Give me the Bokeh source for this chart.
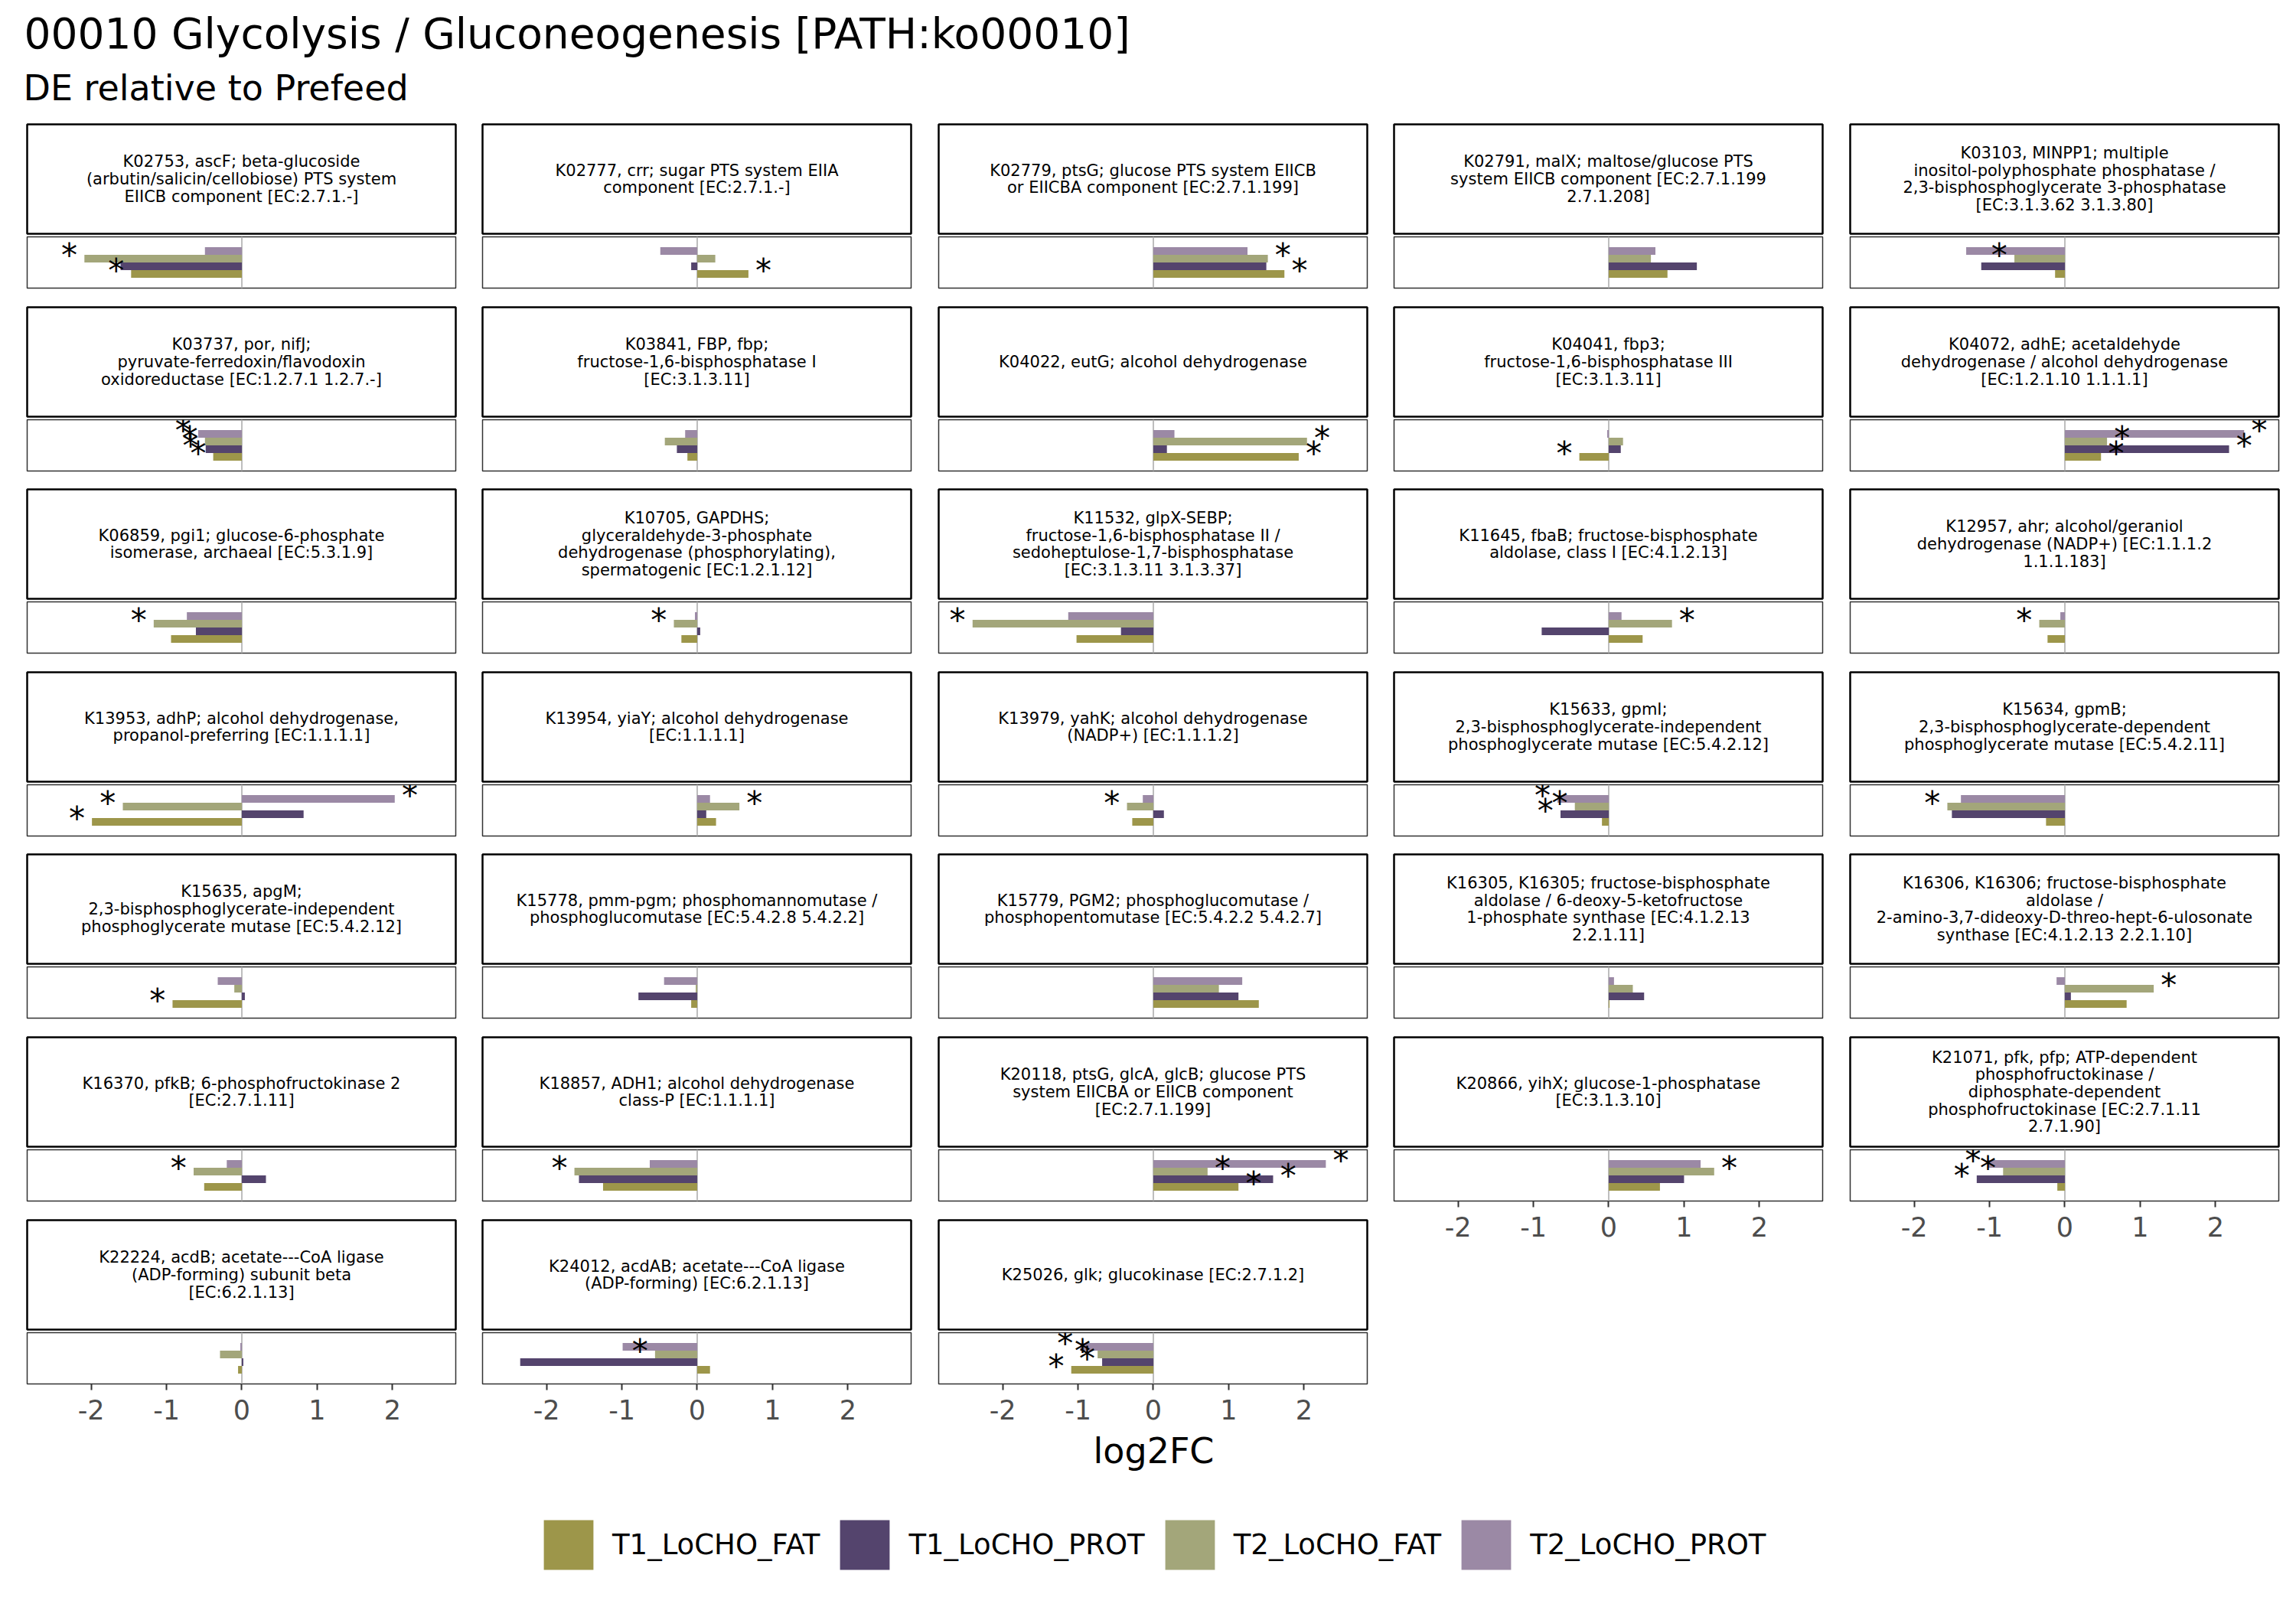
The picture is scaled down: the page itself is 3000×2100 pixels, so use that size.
import numpy as np
from bokeh.plotting import figure
from bokeh.models import Range1d, FactorRange, Spacer, ColumnDataSource, FixedTicker, Span
from bokeh.layouts import column, row
from bokeh.embed import file_html
from bokeh.resources import INLINE
from bokeh.core.properties import value

title = "00010 Glycolysis / Gluconeogenesis [PATH:ko00010]"
subtitle = "DE relative to Prefeed"
x_label = "log2FC"
series = ["T1_LoCHO_FAT", "T1_LoCHO_PROT", "T2_LoCHO_FAT", "T2_LoCHO_PROT"]
colors = ["#9D964A", "#54446D", "#A3A67A", "#9B89A5"]
ticks = [-2, -1, 0, 1, 2]

genes = [
    "K02753, ascF; beta-glucoside\n(arbutin/salicin/cellobiose) PTS system\nEIICB component [EC:2.7.1.-]",
    "K02777, crr; sugar PTS system EIIA\ncomponent [EC:2.7.1.-]",
    "K02779, ptsG; glucose PTS system EIICB\nor EIICBA component [EC:2.7.1.199]",
    "K02791, malX; maltose/glucose PTS\nsystem EIICB component [EC:2.7.1.199\n2.7.1.208]",
    "K03103, MINPP1; multiple\ninositol-polyphosphate phosphatase /\n2,3-bisphosphoglycerate 3-phosphatase\n[EC:3.1.3.62 3.1.3.80]",
    "K03737, por, nifJ;\npyruvate-ferredoxin/flavodoxin\noxidoreductase [EC:1.2.7.1 1.2.7.-]",
    "K03841, FBP, fbp;\nfructose-1,6-bisphosphatase I\n[EC:3.1.3.11]",
    "K04022, eutG; alcohol dehydrogenase",
    "K04041, fbp3;\nfructose-1,6-bisphosphatase III\n[EC:3.1.3.11]",
    "K04072, adhE; acetaldehyde\ndehydrogenase / alcohol dehydrogenase\n[EC:1.2.1.10 1.1.1.1]",
    "K06859, pgi1; glucose-6-phosphate\nisomerase, archaeal [EC:5.3.1.9]",
    "K10705, GAPDHS;\nglyceraldehyde-3-phosphate\ndehydrogenase (phosphorylating),\nspermatogenic [EC:1.2.1.12]",
    "K11532, glpX-SEBP;\nfructose-1,6-bisphosphatase II /\nsedoheptulose-1,7-bisphosphatase\n[EC:3.1.3.11 3.1.3.37]",
    "K11645, fbaB; fructose-bisphosphate\naldolase, class I [EC:4.1.2.13]",
    "K12957, ahr; alcohol/geraniol\ndehydrogenase (NADP+) [EC:1.1.1.2\n1.1.1.183]",
    "K13953, adhP; alcohol dehydrogenase,\npropanol-preferring [EC:1.1.1.1]",
    "K13954, yiaY; alcohol dehydrogenase\n[EC:1.1.1.1]",
    "K13979, yahK; alcohol dehydrogenase\n(NADP+) [EC:1.1.1.2]",
    "K15633, gpmI;\n2,3-bisphosphoglycerate-independent\nphosphoglycerate mutase [EC:5.4.2.12]",
    "K15634, gpmB;\n2,3-bisphosphoglycerate-dependent\nphosphoglycerate mutase [EC:5.4.2.11]",
    "K15635, apgM;\n2,3-bisphosphoglycerate-independent\nphosphoglycerate mutase [EC:5.4.2.12]",
    "K15778, pmm-pgm; phosphomannomutase /\nphosphoglucomutase [EC:5.4.2.8 5.4.2.2]",
    "K15779, PGM2; phosphoglucomutase /\nphosphopentomutase [EC:5.4.2.2 5.4.2.7]",
    "K16305, K16305; fructose-bisphosphate\naldolase / 6-deoxy-5-ketofructose\n1-phosphate synthase [EC:4.1.2.13\n2.2.1.11]",
    "K16306, K16306; fructose-bisphosphate\naldolase /\n2-amino-3,7-dideoxy-D-threo-hept-6-ulosonate\nsynthase [EC:4.1.2.13 2.2.1.10]",
    "K16370, pfkB; 6-phosphofructokinase 2\n[EC:2.7.1.11]",
    "K18857, ADH1; alcohol dehydrogenase\nclass-P [EC:1.1.1.1]",
    "K20118, ptsG, glcA, glcB; glucose PTS\nsystem EIICBA or EIICB component\n[EC:2.7.1.199]",
    "K20866, yihX; glucose-1-phosphatase\n[EC:3.1.3.10]",
    "K21071, pfk, pfp; ATP-dependent\nphosphofructokinase /\ndiphosphate-dependent\nphosphofructokinase [EC:2.7.1.11\n2.7.1.90]",
    "K22224, acdB; acetate---CoA ligase\n(ADP-forming) subunit beta\n[EC:6.2.1.13]",
    "K24012, acdAB; acetate---CoA ligase\n(ADP-forming) [EC:6.2.1.13]",
    "K25026, glk; glucokinase [EC:2.7.1.2]",
]

t1_fat = [-1.47, 0.68, 1.74, 0.78, -0.13, -0.38, -0.13, 1.93, -0.39, 0.48,
          -0.94, -0.21, -1.02, 0.45, -0.23, -1.99, 0.25, -0.28, -0.09, -0.25,
          -0.92, -0.08, 1.40, 0.01, 0.82, -0.50, -1.25, 1.13, 0.68, -0.10,
          -0.05, 0.17, -1.09]
t1_prot = [-1.61, -0.08, 1.50, 1.17, -1.11, -0.48, -0.27, 0.18, 0.16, 2.18,
           -0.61, 0.04, -0.43, -0.89, 0.00, 0.82, 0.12, 0.14, -0.64, -1.50,
           0.04, -0.78, 1.13, 0.47, 0.08, 0.32, -1.57, 1.59, 1.00, -1.17,
           0.02, -2.35, -0.68]
t2_fat = [-2.09, 0.24, 1.52, 0.56, -0.67, -0.49, -0.43, 2.04, 0.19, 0.56,
          -1.17, -0.31, -2.40, 0.84, -0.34, -1.58, 0.56, -0.35, -0.45, -1.56,
          -0.10, -0.02, 0.87, 0.32, 1.18, -0.64, -1.63, 0.72, 1.40, -0.82,
          -0.29, -0.56, -0.74]
t2_prot = [-0.49, -0.49, 1.25, 0.62, -1.31, -0.58, -0.16, 0.28, -0.02, 2.38,
           -0.73, -0.03, -1.13, 0.17, -0.06, 2.03, 0.17, -0.14, -0.68, -1.38,
           -0.32, -0.44, 1.18, 0.07, -0.11, -0.20, -0.63, 2.29, 1.22, -1.02,
           -0.02, -0.99, -0.97]
sig_t1_fat = [1, 1, 1, 0, 0, 1, 0, 1, 1, 1, 0, 0, 0, 0, 0, 1, 0, 0, 0, 0,
              1, 0, 0, 0, 0, 0, 0, 1, 0, 0, 0, 0, 1]
sig_t1_prot = [0, 0, 0, 0, 0, 1, 0, 0, 0, 1, 0, 0, 0, 0, 0, 0, 0, 0, 1, 0,
               0, 0, 0, 0, 0, 0, 0, 1, 0, 1, 0, 0, 1]
sig_t2_fat = [1, 0, 1, 0, 1, 1, 0, 1, 0, 1, 1, 1, 1, 1, 1, 1, 1, 1, 1, 1,
              0, 0, 0, 0, 1, 1, 1, 1, 1, 1, 0, 1, 1]
sig_t2_prot = [0, 0, 0, 0, 0, 1, 0, 0, 0, 1, 0, 0, 0, 0, 0, 1, 0, 0, 1, 0,
               0, 0, 0, 0, 0, 0, 0, 1, 0, 1, 0, 0, 1]

FONT = "DejaVu Sans"
FW = 560          # panel frame width
STRIP_H = 143     # strip frame height
PANEL_H = 67      # panel frame height
B = 2             # border room
AX_B = 60         # room for tick labels
NCOL = 5


def make_strip(txt):
    p = figure(frame_width=FW, frame_height=STRIP_H, x_range=Range1d(0, 1), y_range=Range1d(0, 1),
               x_axis_type=None, y_axis_type=None, toolbar_location=None, output_backend="svg",
               min_border_left=B, min_border_right=B, min_border_top=B, min_border_bottom=B)
    p.outline_line_color = "black"
    p.outline_line_width = 2.5
    p.background_fill_color = "white"
    p.border_fill_color = "white"
    p.text(x=[0.5], y=[0.5], text=[txt], text_align="center", text_baseline="middle",
           text_font=value(FONT), text_font_size="21px", text_color="black", text_line_height=0.94)
    return p


def make_panel(i, with_axis):
    vals = [t1_fat[i], t1_prot[i], t2_fat[i], t2_prot[i]]
    sigs = [sig_t1_fat[i], sig_t1_prot[i], sig_t2_fat[i], sig_t2_prot[i]]
    p = figure(frame_width=FW, frame_height=PANEL_H, x_range=Range1d(-2.85, 2.84),
               y_range=FactorRange(factors=series, range_padding=0.675),
               x_axis_type="linear" if with_axis else None, y_axis_type=None,
               toolbar_location=None, output_backend="svg",
               min_border_left=B, min_border_right=B, min_border_top=B,
               min_border_bottom=AX_B if with_axis else B)
    p.outline_line_color = "#333333"
    p.outline_line_width = 1.5
    p.background_fill_color = "white"
    p.border_fill_color = "white"
    p.grid.visible = False
    p.add_layout(Span(location=0, dimension="height", line_color="#BEBEBE", line_width=2,
                      level="underlay"))
    src = ColumnDataSource(dict(series=series, v=vals, color=colors))
    p.hbar(y="series", left=0, right="v", height=1.0, fill_color="color", line_color=None, source=src)
    st_series = [s for s, g in zip(series, sigs) if g]
    st_x = [v + 0.2 * np.sign(v) for v, g in zip(vals, sigs) if g]
    if st_series:
        ssrc = ColumnDataSource(dict(series=st_series, x=st_x, t=["*"] * len(st_series)))
        p.text(x="x", y="series", text="t", source=ssrc, text_align="center", text_baseline="middle",
               y_offset=-5, text_font=value(FONT), text_font_size="42px", text_color="black")
    if with_axis:
        ax = p.xaxis[0]
        ax.ticker = FixedTicker(ticks=ticks)
        ax.major_label_overrides = {t: str(t) for t in ticks}
        ax.axis_line_color = None
        ax.major_tick_line_color = "#333333"
        ax.major_tick_line_width = 2
        ax.major_tick_out = 8
        ax.major_tick_in = 0
        ax.minor_tick_line_color = None
        ax.major_label_text_font = FONT
        ax.major_label_text_font_size = "35px"
        ax.major_label_text_color = "#4D4D4D"
        ax.major_label_standoff = 12
    return p


# header
hdr = figure(width=3000, height=160, x_range=Range1d(0, 3000), y_range=Range1d(160, 0),
             x_axis_type=None, y_axis_type=None, toolbar_location=None, output_backend="svg",
             min_border=0, outline_line_color=None)
hdr.text(x=[31], y=[43], text=[title], text_font=value(FONT), text_font_size="55px",
         text_align="left", text_baseline="alphabetic", text_color="black")
hdr.text(x=[30], y=[114], text=[subtitle], text_font=value(FONT), text_font_size="46px",
         text_align="left", text_baseline="alphabetic", text_color="black")

# facet columns
gaps = [21, 20, 21, 20, 21, 21]
col_layouts = []
for c in range(NCOL):
    idxs = list(range(c, len(genes), NCOL))
    children = []
    for k, i in enumerate(idxs):
        if k > 0:
            children.append(Spacer(width=FW + 2 * B, height=gaps[k - 1]))
        children.append(make_strip(genes[i]))
        children.append(make_panel(i, k == len(idxs) - 1))
    col_layouts.append(column(children, spacing=0))

grid = row([Spacer(width=33), col_layouts[0], Spacer(width=31), col_layouts[1],
            Spacer(width=32), col_layouts[2], Spacer(width=31), col_layouts[3],
            Spacer(width=32), col_layouts[4]], spacing=0)

# bottom: axis title + legend
bot = figure(width=3000, height=232, x_range=Range1d(0, 3000), y_range=Range1d(232, 0),
             x_axis_type=None, y_axis_type=None, toolbar_location=None, output_backend="svg",
             min_border=0, outline_line_color=None)
bot.text(x=[1507], y=[27], text=[x_label], text_font=value(FONT), text_font_size="46px",
         text_align="center", text_baseline="alphabetic", text_color="black")
series_vals = [t1_fat, t1_prot, t2_fat, t2_prot]
for s, c, sv in zip(series, colors, series_vals):
    r = bot.hbar(y=[0], left=0, right=[sv[0]], height=1, fill_color=c, line_color=None,
                 legend_label=s)
    r.visible = False
leg = bot.legend[0]
leg.orientation = "horizontal"
leg.location = (702, 41)
leg.margin = 0
leg.padding = 0
leg.spacing = 18
leg.glyph_width = 81
leg.glyph_height = 81
leg.label_standoff = 17
leg.label_text_font = FONT
leg.label_text_font_size = "37px"
leg.label_text_color = "black"
leg.border_line_color = None
leg.background_fill_alpha = 0
leg.inactive_fill_alpha = 0

root = column([hdr, grid, bot], spacing=0)
open("out.html", "w").write(file_html(root, INLINE))
